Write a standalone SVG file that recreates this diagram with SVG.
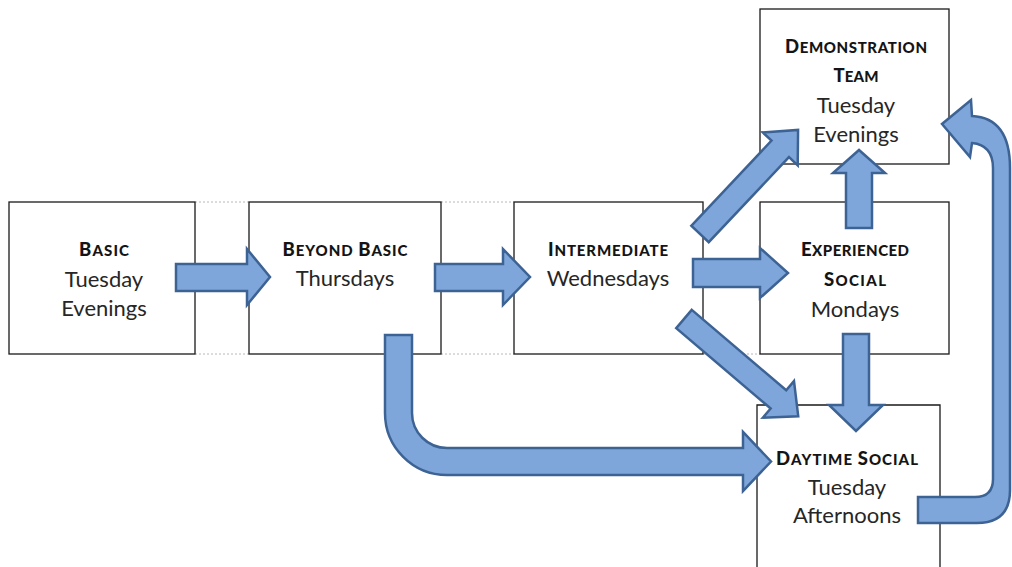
<svg xmlns="http://www.w3.org/2000/svg" width="1012" height="567" viewBox="0 0 1012 567">
<style>
.box{fill:none;stroke:#1a1a1a;stroke-width:1.3}
.gap{stroke:#b8b8b8;stroke-width:1;stroke-dasharray:2 2;fill:none}
.arr{fill:#7fa6da;stroke:#3d6394;stroke-width:2.5;stroke-linejoin:miter}
.t{font-family:Lato,"Liberation Sans",sans-serif;font-size:22px;fill:#262626;text-anchor:middle}
.h{font-family:Lato,"Liberation Sans",sans-serif;font-weight:900;font-size:15px;fill:#141414;text-anchor:middle}
.hb{font-size:18.5px}
</style>
<rect width="1012" height="567" fill="#ffffff"/>
<g id="gaps">
<path class="gap" d="M195,202H249M195,354H249M441,202H514M441,354H514M703,354H760"/>
</g>
<g id="basic">
<rect class="box" x="9" y="202" width="186" height="152"/>
<text class="h" x="104" y="256" textLength="50" lengthAdjust="spacing"><tspan class="hb">B</tspan>ASIC</text>
<text class="t" x="104" y="287">Tuesday</text>
<text class="t" x="104" y="316">Evenings</text>
</g>
<g id="beyond-basic">
<rect class="box" x="249" y="202" width="192" height="152"/>
<text class="h" x="345" y="256" textLength="125" lengthAdjust="spacing"><tspan class="hb">B</tspan>EYOND <tspan class="hb">B</tspan>ASIC</text>
<text class="t" x="345" y="286">Thursdays</text>
</g>
<g id="intermediate">
<rect class="box" x="514" y="202" width="189" height="152"/>
<text class="h" x="608" y="256" textLength="120" lengthAdjust="spacing"><tspan class="hb">I</tspan>NTERMEDIATE</text>
<text class="t" x="608" y="286">Wednesdays</text>
</g>
<g id="experienced-social">
<rect class="box" x="760" y="202" width="189" height="152"/>
<text class="h" x="855" y="256" textLength="108" lengthAdjust="spacing"><tspan class="hb">E</tspan>XPERIENCED</text>
<text class="h" x="855" y="286" textLength="62" lengthAdjust="spacing"><tspan class="hb">S</tspan>OCIAL</text>
<text class="t" x="855" y="317">Mondays</text>
</g>
<g id="demonstration-team">
<rect class="box" x="760" y="9" width="189" height="155"/>
<text class="h" x="856" y="53" textLength="142" lengthAdjust="spacing"><tspan class="hb">D</tspan>EMONSTRATION</text>
<text class="h" x="856" y="82" textLength="45" lengthAdjust="spacing"><tspan class="hb">T</tspan>EAM</text>
<text class="t" x="856" y="113">Tuesday</text>
<text class="t" x="856" y="142">Evenings</text>
</g>
<g id="daytime-social">
<path class="box" d="M757,580V405H940V580"/>
<text class="h" x="847" y="465" textLength="142" lengthAdjust="spacing"><tspan class="hb">D</tspan>AYTIME <tspan class="hb">S</tspan>OCIAL</text>
<text class="t" x="847" y="495">Tuesday</text>
<text class="t" x="847" y="523">Afternoons</text>
</g>
<g id="connectors">
<path class="arr" d="M176,264H247V249L270,277L247,305V291H176Z"/>
<path class="arr" d="M435,264H503V249L530,277L503,305V291H435Z"/>
<path class="arr" d="M693,259H760V248L788,273L760,298V287H693Z"/>
<path class="arr" d="M846,228V173H833L859,150L885,173H872V228Z"/>
<path class="arr" d="M843,334V405H829L856,431L883,405H869V334Z"/>
<path class="arr" transform="translate(700,234) rotate(-46.7)" d="M0,-12H117V-24L143,0L117,24V12H0Z"/>
<path class="arr" transform="translate(684,319) rotate(40.4)" d="M0,-12H124V-24L150,0L124,24V12H0Z"/>
<path class="arr" d="M385,335H412V413A35,35 0 0 0 447,448H743V432L771,461.5L743,491V475H447A62,62 0 0 1 385,413Z"/>
<path class="arr" d="M918,497H975Q993,497 993,479V168Q993,145 972,143L970,157L942,124L971,100L972,116Q1010,118 1010,168V490Q1010,523 977,523H918Z"/>
</g>
</svg>
